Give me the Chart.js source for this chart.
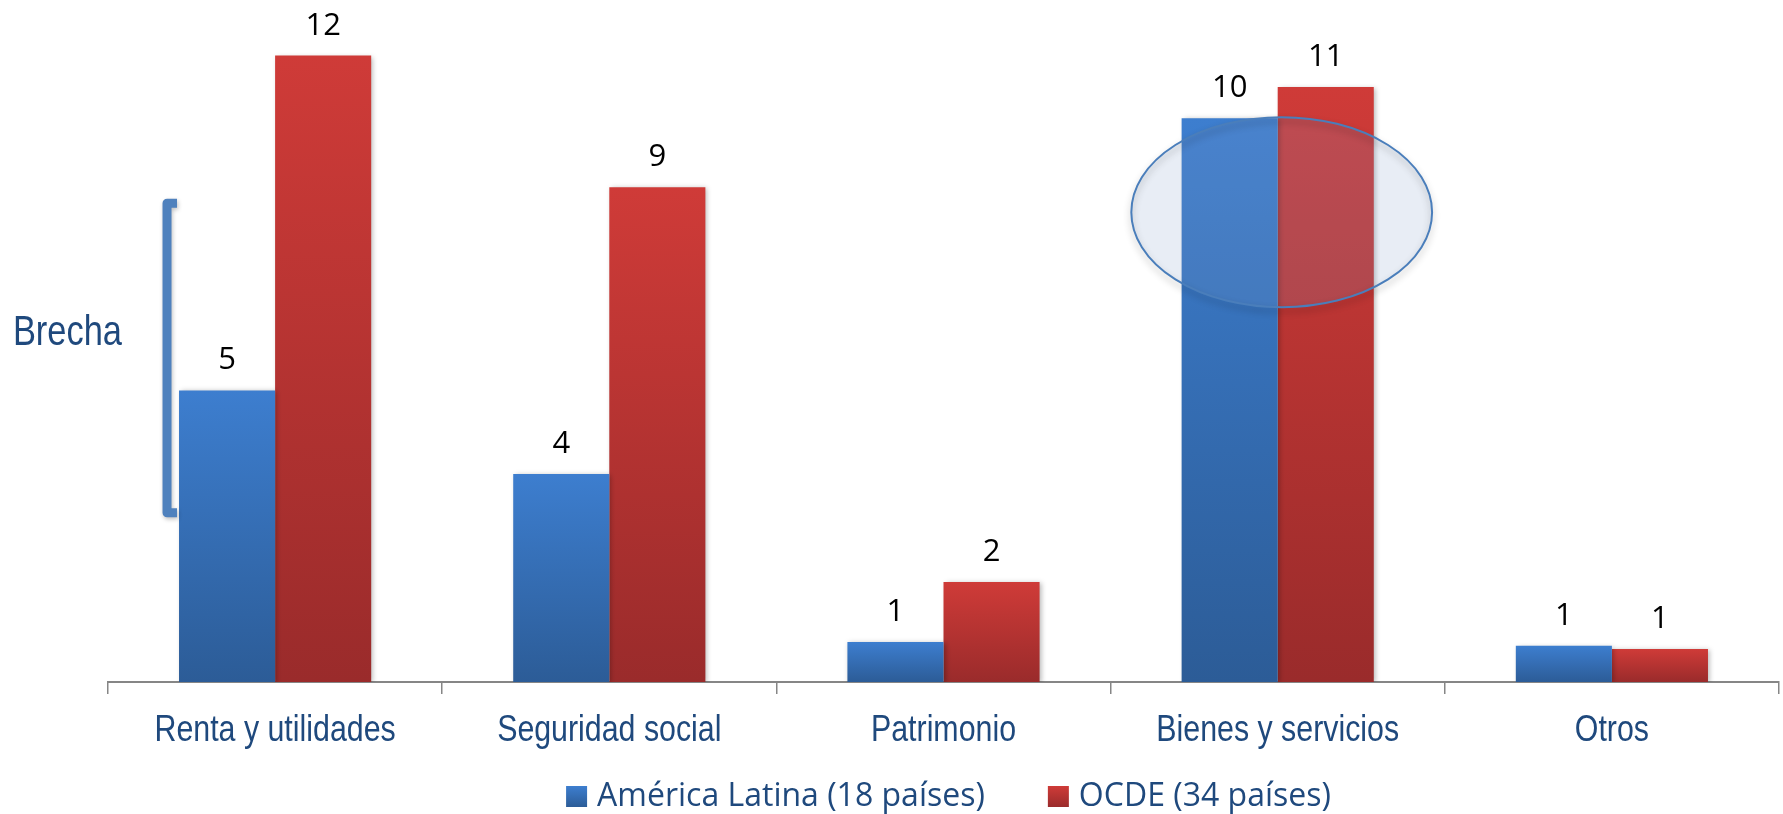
<!DOCTYPE HTML>
<html>
<head>
  <script src="https://cdn.jsdelivr.net/npm/chart.js"></script>
  <style>
    body { margin: 0; background: #ffffff; }
  </style>
</head>
<body>
  <div style="width: 1783px; height: 814px;">
    <canvas id="taxChartID"></canvas>
  </div>

  <script>
    // Data (tax revenue, % of GDP)
    var categories = ['Renta y utilidades', 'Seguridad social', 'Patrimonio', 'Bienes y servicios', 'Otros'];
    var seriesNames = ['América Latina (18 países)', 'OCDE (34 países)'];
    var latamValues = [5.4, 3.85, 0.74, 10.44, 0.67];
    var oecdValues = [11.6, 9.16, 1.85, 11.02, 0.61];

    // Annotations: the "Brecha" bracket and the highlighted category
    var gapText = 'Brecha';
    var gapFrom = 3.05, gapTo = 8.95;      // bracket span, in axis units
    var gapTextAt = 6.24;
    var highlightIndex = 3;                // Bienes y servicios
    var highlightCenter = 8.7, highlightHalf = 1.76;

    var blueTop = '#3d7ecf', blueBottom = '#2c5c97';
    var redTop = '#cf3b38', redBottom = '#9a2b2b';
    var textBlue = '#1f497d';
    var labelFont = '"Open Sans", sans-serif';
    var narrowScale = 0.82;   // Arial Narrow look, from Liberation Sans

    // vertical gradient per bar, light on top, dark at the base
    function barGradient(top, bottom) {
      return function(context) {
        var chart = context.chart;
        var yScale = chart.scales.y;
        if (!yScale || !context.parsed) return top;
        var y0 = yScale.getPixelForValue(0);
        var y1 = yScale.getPixelForValue(context.parsed.y);
        if (!isFinite(y0) || !isFinite(y1) || y0 === y1) return top;
        var g = chart.ctx.createLinearGradient(0, y1, 0, y0);
        g.addColorStop(0, top);
        g.addColorStop(1, bottom);
        return g;
      };
    }

    function narrowText(ctx, text, x, y, size, align) {
      ctx.save();
      ctx.font = size + 'px "Liberation Sans", Arial, sans-serif';
      ctx.fillStyle = textBlue;
      ctx.textAlign = align;
      ctx.textBaseline = 'alphabetic';
      ctx.translate(x, y);
      ctx.scale(narrowScale, 1);
      ctx.fillText(text, 0, 0);
      ctx.restore();
    }

    var barShadow = {
      id: 'barShadow',
      beforeDatasetsDraw: function(chart) {
        var ctx = chart.ctx;
        ctx.save();
        ctx.shadowColor = 'rgba(0, 0, 0, 0.28)';
        ctx.shadowBlur = 5;
        ctx.shadowOffsetX = 2;
        ctx.shadowOffsetY = 1;
      },
      afterDatasetsDraw: function(chart) {
        chart.ctx.restore();
      }
    };

    var annotations = {
      id: 'annotations',
      afterDatasetsDraw: function(chart) {
        var ctx = chart.ctx;
        var x = chart.scales.x, y = chart.scales.y;
        var area = chart.chartArea;

        // value labels above the bars
        ctx.save();
        ctx.font = '31px ' + labelFont;
        ctx.fillStyle = '#000000';
        ctx.textAlign = 'center';
        ctx.textBaseline = 'alphabetic';
        chart.data.datasets.forEach(function(ds, i) {
          chart.getDatasetMeta(i).data.forEach(function(bar, j) {
            ctx.fillText(String(Math.round(ds.data[j])), bar.x, bar.y - 21);
          });
        });
        ctx.restore();

        // category labels under the axis
        chart.data.labels.forEach(function(label, i) {
          narrowText(ctx, label, x.getPixelForValue(i), area.bottom + 59, 37, 'center');
        });

        // highlight ellipse
        var catWidth = x.getPixelForValue(1) - x.getPixelForValue(0);
        var cx = x.getPixelForValue(highlightIndex) + 4;
        var cy = y.getPixelForValue(highlightCenter);
        var ry = y.getPixelForValue(highlightCenter - highlightHalf) - cy;
        var rx = catWidth * 0.45;
        ctx.save();
        ctx.beginPath();
        ctx.ellipse(cx, cy, rx, ry, 0, 0, Math.PI * 2);
        ctx.fillStyle = 'rgba(127, 155, 199, 0.18)';
        ctx.fill();
        ctx.shadowColor = 'rgba(0, 0, 0, 0.3)';
        ctx.shadowBlur = 7;
        ctx.shadowOffsetY = 4;
        ctx.strokeStyle = '#4a7ebb';
        ctx.lineWidth = 2;
        ctx.stroke();
        ctx.restore();

        // bracket for the gap
        var firstBar = chart.getDatasetMeta(0).data[0];
        var barLeft = firstBar.x - firstBar.width / 2;
        var bx = barLeft - 12;
        var yTop = y.getPixelForValue(gapTo) + 4.5;
        var yBot = y.getPixelForValue(gapFrom) - 4.5;
        ctx.save();
        ctx.shadowColor = 'rgba(0, 0, 0, 0.25)';
        ctx.shadowBlur = 4;
        ctx.shadowOffsetX = 1;
        ctx.shadowOffsetY = 2;
        ctx.beginPath();
        ctx.moveTo(bx + 10, yTop);
        ctx.lineTo(bx, yTop);
        ctx.lineTo(bx, yBot);
        ctx.lineTo(bx + 10, yBot);
        ctx.strokeStyle = '#4f81bd';
        ctx.lineWidth = 9;
        ctx.lineJoin = 'round';
        ctx.stroke();
        ctx.restore();

        narrowText(ctx, gapText, bx - 45, y.getPixelForValue(gapTextAt), 42, 'right');

        // legend under the category labels
        var swatches = [[blueTop, blueBottom], [redTop, redBottom]];
        var box = 21, gap = 10, itemGap = 63;
        ctx.save();
        ctx.font = '32px ' + labelFont;
        var widths = seriesNames.map(function(s) { return ctx.measureText(s).width; });
        var total = box + gap + widths[0] + itemGap + box + gap + widths[1];
        var lx = (area.left + area.right) / 2 + 5 - total / 2;
        var boxTop = area.bottom + 104;
        seriesNames.forEach(function(name, i) {
          var g = ctx.createLinearGradient(0, boxTop, 0, boxTop + box);
          g.addColorStop(0, swatches[i][0]);
          g.addColorStop(1, swatches[i][1]);
          ctx.fillStyle = g;
          ctx.fillRect(lx, boxTop, box, box);
          ctx.fillStyle = textBlue;
          ctx.textAlign = 'left';
          ctx.textBaseline = 'alphabetic';
          ctx.fillText(name, lx + box + gap, boxTop + 20);
          lx += box + gap + widths[i] + itemGap;
        });
        ctx.restore();
      }
    };

    var myContext = document.getElementById('taxChartID').getContext('2d');
    var myChart = new Chart(myContext, {
      type: 'bar',
      data: {
        labels: categories,
        datasets: [{
          label: seriesNames[0],
          data: latamValues,
          backgroundColor: barGradient(blueTop, blueBottom),
          borderWidth: 0
        }, {
          label: seriesNames[1],
          data: oecdValues,
          backgroundColor: barGradient(redTop, redBottom),
          borderWidth: 0
        }]
      },
      options: {
        responsive: true,
        maintainAspectRatio: false,
        animation: false,
        categoryPercentage: 0.575,
        barPercentage: 1,
        layout: {
          padding: { left: 108, right: 4, top: 7, bottom: 120 }
        },
        plugins: {
          tooltip: { enabled: false },
          legend: { display: false }
        },
        scales: {
          x: {
            grid: {
              display: true,
              offset: true,
              drawOnChartArea: false,
              drawTicks: true,
              tickLength: 12,
              color: '#868686',
              lineWidth: 1.5
            },
            border: { display: true, color: '#868686', width: 2 },
            ticks: { display: false }
          },
          y: {
            display: false,
            min: 0,
            max: 12.5
          }
        }
      },
      plugins: [barShadow, annotations]
    });
  </script>
</body>
</html>
